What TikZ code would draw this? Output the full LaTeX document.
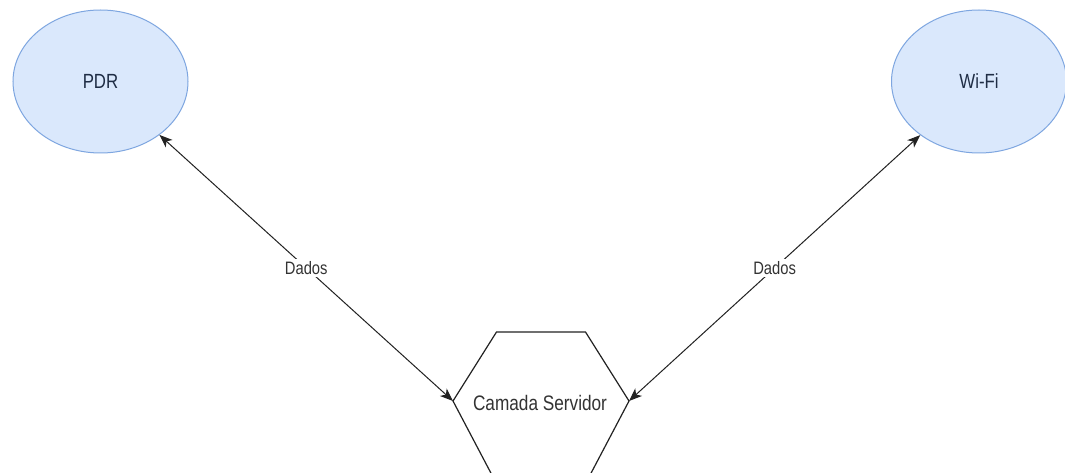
\documentclass[tikz,border=0pt]{standalone}
\usepackage{fontspec}
\usetikzlibrary{arrows.meta}
\newfontfamily\diagfont[FakeStretch=0.82]{Liberation Sans}
\definecolor{ellfill}{HTML}{DAE8FC}
\definecolor{ellline}{HTML}{7EA6E0}
\definecolor{elltext}{HTML}{1F2D45}
\definecolor{inktext}{HTML}{333333}
\definecolor{linkline}{HTML}{222222}
\tikzset{
  bubble/.style={ellipse, draw=ellline, fill=ellfill, line width=1pt,
    minimum width=175pt, minimum height=143pt, inner sep=0pt,
    text=elltext, font=\diagfont\fontsize{20.5}{24}\selectfont},
  hexlabel/.style={text=inktext, font=\diagfont\fontsize{21}{25}\selectfont},
  link/.style={draw=linkline, line width=1pt,
    {Stealth[length=13pt,width=10pt,inset=3.5pt]}-{Stealth[length=13pt,width=10pt,inset=3.5pt]}},
  linklabel/.style={fill=white, inner sep=2pt, text=inktext,
    font=\diagfont\fontsize{18}{21}\selectfont},
}
\usetikzlibrary{shapes.geometric}
\begin{document}
\begin{tikzpicture}[x=1pt,y=-1pt]
  \useasboundingbox (0,0) rectangle (1065,473);
  \clip (0,0) rectangle (1065,473);
  \fill[white] (0,0) rectangle (1065,473);

  % client-side sources
  \node[bubble] (pdr) at (100.5,81.5) {PDR};
  \node[bubble] (wifi) at (979,81.5) {Wi-Fi};

  % server layer hexagon (lower part runs off the page)
  \coordinate (hexL) at (453,401);
  \coordinate (hexR) at (629,401);
  \draw[linkline, line width=1.2pt, fill=white]
    (hexL) -- (496.5,332) -- (585.5,332) -- (hexR) -- (589,477) -- (493,477) -- cycle;
  \node[hexlabel] (srv) at (540,403) {Camada Servidor};

  % data links
  \draw[link] (pdr) -- node[linklabel] (dl) {Dados} (hexL);
  \draw[link] (wifi) -- node[linklabel] (dr) {Dados} (hexR);
\end{tikzpicture}
\end{document}
